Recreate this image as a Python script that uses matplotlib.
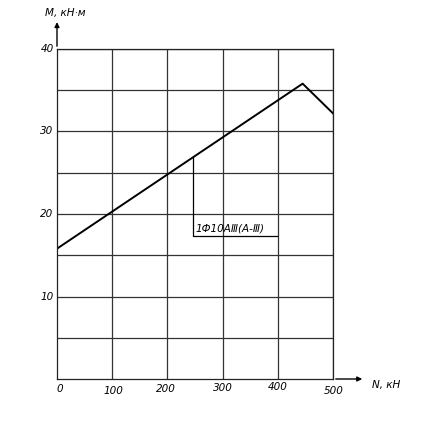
import matplotlib.pyplot as plt
import numpy as np

# data
n_points = [0, 445, 500]          # N, kN
m_points = [15.8, 35.8, 32.2]     # M, kN*m
x_ticks = [0, 100, 200, 300, 400, 500]
x_labels = ["0", "100", "200", "300", "400", "500"]
y_ticks = [10, 20, 30, 40]
y_labels = ["10", "20", "30", "40"]
note_n = 246
note_text = "1Ф10АⅢ(А-Ⅲ)"

plt.rcParams.update({'font.family': 'DejaVu Sans', 'font.style': 'italic'})

fig = plt.figure(figsize=(4.23, 4.28), dpi=100)
ax = fig.add_axes([57/423, 49/428, 276/423, 330/428])
ax.set_xlim(0, 500)
ax.set_ylim(0, 40)

# grid
for x in np.arange(100, 501, 100):
    ax.axvline(x, color='#333333', lw=0.9)
for y in np.arange(5, 41, 5):
    ax.axhline(y, color='#333333', lw=0.9)
for s in ax.spines.values():
    s.set_linewidth(0.9)
    s.set_color('#222222')
ax.set_xticks([])
ax.set_yticks([])

# main curve
ax.plot(n_points, m_points, color='black', lw=1.4)

# leader to the reinforcement note
m_note = np.interp(note_n, n_points, m_points)
ax.plot([note_n, note_n, 400 - 2], [m_note, 17.3, 17.3], color='black', lw=0.9)
ax.text(note_n + 4, 17.6, note_text, fontsize=7.5, ha='left', va='bottom',
        style='italic', fontweight='medium')

# axis arrows
ax.annotate('', xy=(0, 43.6), xytext=(0, 40), xycoords='data',
            arrowprops=dict(arrowstyle='-|>', color='black', lw=1, mutation_scale=7),
            annotation_clip=False)
ax.annotate('', xy=(558, 0), xytext=(500, 0), xycoords='data',
            arrowprops=dict(arrowstyle='-|>', color='black', lw=1, mutation_scale=7),
            annotation_clip=False)

# tick labels
x_pos = [5, 102, 197, 301, 400, 502]
y_pos = [-1.21, -1.45, -1.21, -1.09, -0.97, -1.45]
for px, lab, py in zip(x_pos, x_labels, y_pos):
    ax.text(px, py, lab, fontsize=7.5, ha='center', va='center', style='italic')
for y, lab in zip(y_ticks, y_labels):
    ax.text(-18, y, lab, fontsize=7.5, ha='center', va='center', style='italic')

ax.text(-22, 43.8, "M, кН·м", fontsize=7.5, ha='left', va='bottom', style='italic')
ax.text(570, -0.7, "N, кН", fontsize=7.5, ha='left', va='center', style='italic')

fig.savefig("out.png", dpi=100)
